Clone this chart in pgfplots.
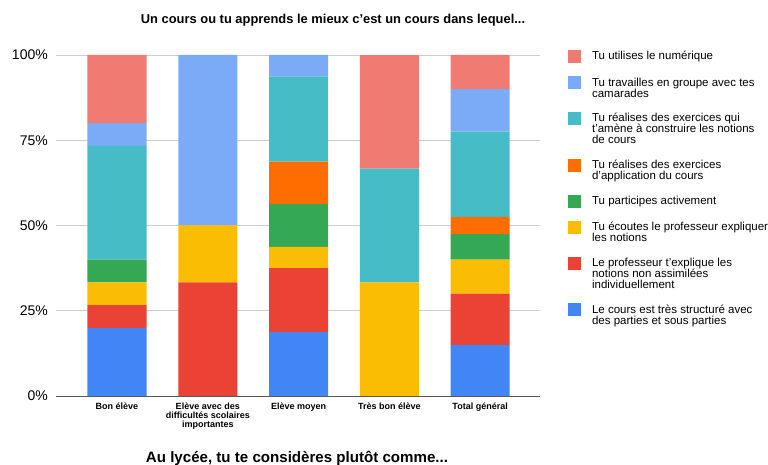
\documentclass[border=0pt]{standalone}
\usepackage{pgfplots}
\pgfplotsset{compat=1.18}
\usepackage{fontspec}
\setmainfont{Liberation Sans}
\definecolor{cblue}{HTML}{4285F4}
\definecolor{cred}{HTML}{EA4335}
\definecolor{cyellow}{HTML}{FBBC04}
\definecolor{cgreen}{HTML}{34A853}
\definecolor{corange}{HTML}{FF6D01}
\definecolor{cteal}{HTML}{46BDC6}
\definecolor{clblue}{HTML}{7BAAF7}
\definecolor{cpink}{HTML}{F07B72}
\pgfplotsset{
  leg1/.style={legend image code/.code={\fill[##1] (0bp,-6.5bp) rectangle (13bp,6.5bp);}},
  leg2/.style={legend image code/.code={\fill[##1] (0bp,-1bp) rectangle (13bp,12bp);}},
  leg3/.style={legend image code/.code={\fill[##1] (0bp,4.5bp) rectangle (13bp,17.5bp);}},
}
\begin{document}
\begin{tikzpicture}
\path[use as bounding box] (0,0) rectangle (768bp,465bp);
\begin{axis}[
  at={(56bp,69bp)}, anchor=south west,
  scale only axis, width=484bp, height=341bp,
  ybar stacked, bar width=59bp,
  xmin=-0.672, xmax=4.66, ymin=0, ymax=100,
  xtick={0,1,2,3,4},
  xticklabels={Bon élève,{Elève avec des\\difficultés scolaires\\importantes},Elève moyen,Très bon élève,Total général},
  xticklabel style={align=center, font=\bfseries\fontsize{9bp}{9bp}\selectfont, inner sep=0pt, yshift=-7bp},
  ytick={0,25,50,75,100},
  yticklabels={0\%,25\%,50\%,75\%,100\%},
  yticklabel style={font=\fontsize{14bp}{16bp}\selectfont, inner sep=0pt, xshift=-8bp},
  /pgf/number format/assume math mode=true,
  ymajorgrids, grid style={color=black!20, line width=0.8bp},
  axis x line*=bottom, axis y line*=left,
  y axis line style={draw=none},
  x axis line style={-, color=black!65, line width=1bp},
  tick style={draw=none},
  every axis plot/.append style={draw=none},
  reverse legend,
  legend cell align=left,
  leg1,
  legend style={at={(1.058,1.0147)}, anchor=north west, draw=none, inner sep=0pt, outer sep=0pt,
    font=\fontsize{11.5bp}{11bp}\selectfont, row sep=13.3bp, column sep=0bp,
    nodes={align=left, inner sep=0pt, outer xsep=0pt}},
]
\addplot[fill=cblue, leg2] coordinates {(0,20) (1,0) (2,18.75) (3,0) (4,15)};
\addplot[fill=cred, leg3] coordinates {(0,6.667) (1,33.333) (2,18.75) (3,0) (4,15)};
\addplot[fill=cyellow, leg2] coordinates {(0,6.667) (1,16.667) (2,6.25) (3,33.333) (4,10)};
\addplot[fill=cgreen, leg1] coordinates {(0,6.667) (1,0) (2,12.5) (3,0) (4,7.5)};
\addplot[fill=corange, leg2] coordinates {(0,0) (1,0) (2,12.5) (3,0) (4,5)};
\addplot[fill=cteal, leg3] coordinates {(0,33.333) (1,0) (2,25) (3,33.333) (4,25)};
\addplot[fill=clblue, leg2] coordinates {(0,6.667) (1,50) (2,6.25) (3,0) (4,12.5)};
\addplot[fill=cpink, leg1] coordinates {(0,20) (1,0) (2,0) (3,33.333) (4,10)};
\legend{\hspace{11bp}Le cours est très structuré avec\\\hspace{11bp}des parties et sous parties,
  \hspace{11bp}Le professeur t'explique les\\\hspace{11bp}notions non assimilées\\\hspace{11bp}individuellement,
  \hspace{11bp}Tu écoutes le professeur expliquer\\\hspace{11bp}les notions,
  \hspace{11bp}Tu participes activement,
  \hspace{11bp}Tu réalises des exercices\\\hspace{11bp}d'application du cours,
  \hspace{11bp}Tu réalises des exercices qui\\\hspace{11bp}t'amène à construire les notions\\\hspace{11bp}de cours,
  \hspace{11bp}Tu travailles en groupe avec tes\\\hspace{11bp}camarades,
  \hspace{11bp}Tu utilises le numérique}
\end{axis}
\node[anchor=base, font=\bfseries\fontsize{12.9bp}{15bp}\selectfont] at (333bp,441bp) {Un cours ou tu apprends le mieux c'est un cours dans lequel...};
\node[anchor=base, font=\bfseries\fontsize{15.1bp}{17bp}\selectfont] at (297bp,3bp) {Au lycée, tu te considères plutôt comme...};
\end{tikzpicture}
\end{document}
